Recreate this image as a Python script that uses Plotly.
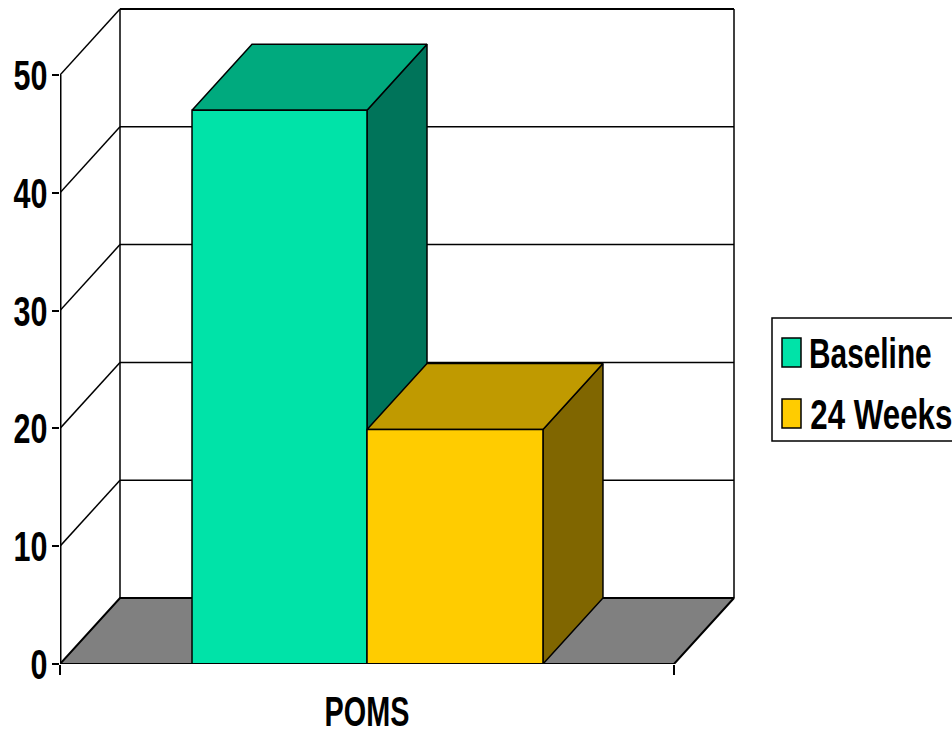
import plotly.graph_objects as go

# Chart values
categories = ["POMS"]
series_names = ["Baseline", "24 Weeks"]
series_values = [47.0, 19.9]
y_ticks = [0, 10, 20, 30, 40, 50]

# Pseudo-3D styling, in axis units
PX_PER_UNIT_Y = 11.78
PX_PER_UNIT_X = 614
DEPTH_X = 60 / PX_PER_UNIT_X
DEPTH_Y = 66 / PX_PER_UNIT_Y
bar_edges = [0.2150, 0.5, 0.7866]
front_colors = ["#00E3A8", "#FFCC00"]
top_colors = ["#00AA7E", "#C09A00"]
side_colors = ["#00745A", "#806600"]
FONT = "Liberation Sans, Arial, sans-serif"
bold = dict(family=FONT, size=43, color="black", weight="bold")

W, H = 952, 730
LEFT, BASE = 60, 664
fig = go.Figure()


def poly(xs, ys, fill=None, width=1.5):
    fig.add_trace(go.Scatter(
        x=xs, y=ys, mode="lines", cliponaxis=False, showlegend=False,
        hoverinfo="skip", line=dict(color="black", width=width),
        fill="toself" if fill else None, fillcolor=fill,
    ))


# Back wall gridlines and left wall diagonals
for t in y_ticks:
    if t > 0:
        poly([DEPTH_X, 1 + DEPTH_X], [t + DEPTH_Y] * 2, width=1.5 if t < 50 else 2)
        poly([0, DEPTH_X], [t, t + DEPTH_Y])
poly([DEPTH_X, DEPTH_X], [DEPTH_Y, 50 + DEPTH_Y])
poly([1 + DEPTH_X, 1 + DEPTH_X], [DEPTH_Y, 50 + DEPTH_Y])

# Front axis line
poly([0, 0], [0, 50], width=3)

# Floor
poly([0, 1, 1 + DEPTH_X, DEPTH_X, 0], [0, 0, DEPTH_Y, DEPTH_Y, 0], fill="#808080", width=2)

# Bars: side, top, then front face
for i, v in enumerate(series_values):
    x0, x1 = bar_edges[i], bar_edges[i + 1]
    poly([x1, x1 + DEPTH_X, x1 + DEPTH_X, x1, x1],
         [0, DEPTH_Y, v + DEPTH_Y, v, 0], fill=side_colors[i])
    poly([x0, x1, x1 + DEPTH_X, x0 + DEPTH_X, x0],
         [v, v, v + DEPTH_Y, v + DEPTH_Y, v], fill=top_colors[i])
    poly([x0, x1, x1, x0, x0], [0, 0, v, v, 0], fill=front_colors[i])
poly([0, 1], [0, 0], width=2)

# Legend box, swatches and labels, placed on the page
shapes = [dict(type="rect", xref="paper", yref="paper",
               x0=772 / W, x1=962 / W, y0=1 - 441 / H, y1=1 - 318 / H,
               line=dict(color="black", width=1.5), fillcolor="white", layer="below")]
annotations = []
for name, color, top, centre in zip(series_names, front_colors, [338, 399], [870.5, 881]):
    shapes.append(dict(type="rect", xref="paper", yref="paper",
                       x0=782 / W, x1=801 / W, y0=1 - (top + 29) / H, y1=1 - top / H,
                       line=dict(color="black", width=1.5), fillcolor=color))
    annotations.append(dict(xref="paper", yref="paper", x=centre / W, y=1 - (top + 15) / H,
                            xanchor="center", yanchor="middle", text=name,
                            showarrow=False, font=dict(bold, size=42)))

fig.update_layout(
    width=W, height=H, margin=dict(l=0, r=0, t=0, b=0, autoexpand=False),
    paper_bgcolor="white", plot_bgcolor="rgba(0,0,0,0)",
    showlegend=False, shapes=shapes, annotations=annotations,
    xaxis=dict(
        domain=[LEFT / W, 1], range=[0, (W - LEFT) / PX_PER_UNIT_X], fixedrange=True,
        showgrid=False, zeroline=False, showline=False, automargin=False,
        tickmode="array", tickvals=[0.5], ticktext=categories,
        ticks="", ticklen=0, ticklabelstandoff=18, tickfont=bold,
        minor=dict(tickmode="array", tickvals=[0, 1], ticks="outside",
                   ticklen=10, tickcolor="black", tickwidth=1.5, showgrid=False),
    ),
    yaxis=dict(
        domain=[(H - BASE) / H, 1], range=[0, BASE / PX_PER_UNIT_Y], fixedrange=True,
        showgrid=False, zeroline=False, showline=False, automargin=False,
        tickmode="array", tickvals=y_ticks,
        ticks="outside", ticklen=7, tickcolor="black", tickwidth=1.5,
        ticklabelstandoff=-4, tickfont=bold,
    ),
)

# Condense the label glyphs horizontally, keeping each label's anchor fixed
condense_labels = """
function squeeze(el, scale, anchor) {
  var b = el.getBBox();
  var cx = anchor === 'end' ? b.x + b.width : b.x + b.width / 2;
  var prev = el.getAttribute('transform') || '';
  el.setAttribute('transform', prev + ' translate(' + cx + ',0) scale(' + scale + ',1) translate(' + (-cx) + ',0)');
}
document.querySelectorAll('.ytick text').forEach(function (t) { squeeze(t, 0.71, 'end'); });
document.querySelectorAll('.xtick text').forEach(function (t) { squeeze(t, 0.67, 'middle'); });
var legendScales = [0.71, 0.745];
document.querySelectorAll('.annotation-text').forEach(function (t, i) { squeeze(t, legendScales[i], 'middle'); });
"""

fig.write_html("out.html", post_script=condense_labels)
